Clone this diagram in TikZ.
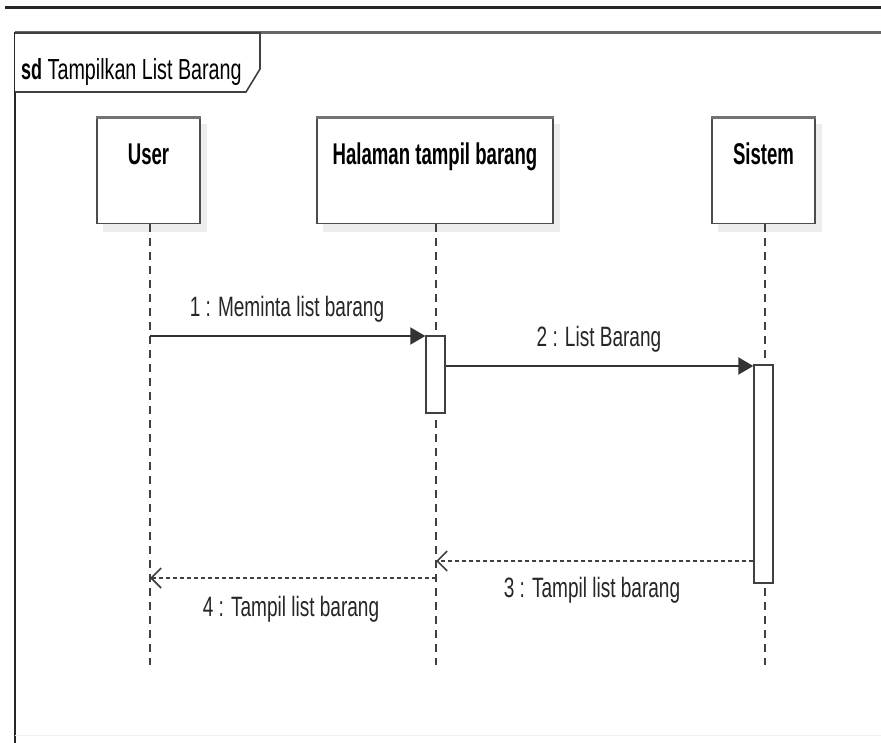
\documentclass[tikz,border=0pt]{standalone}
\usepackage{fontspec}
\setmainfont{Liberation Sans}[FakeStretch=0.68]
\newfontfamily\hdrfont{Liberation Sans}[FakeStretch=0.62]
\usetikzlibrary{arrows.meta}

\tikzset{
  lifebox/.style={draw=black!70, line width=1.4pt, fill=white,
    minimum width=103pt, minimum height=105pt, inner sep=0pt},
  boxshadow/.style={fill=black!7, draw=none},
  hdr/.style={font=\hdrfont\fontsize{30}{32}\selectfont\bfseries, anchor=base, inner sep=0pt},
  msglabel/.style={font=\fontsize{28}{30}\selectfont, anchor=base, inner sep=0pt, text=black!85},
  lifeline/.style={draw=black!75, line width=1.2pt, dash pattern=on 8pt off 6pt},
  actbox/.style={draw=black!75, line width=1.4pt, fill=white, minimum width=19pt, inner sep=0pt},
  callmsg/.style={draw=black!80, line width=2pt,
    -{Triangle[length=15pt, width=17pt]}},
  replymsg/.style={draw=black!75, line width=2pt, dash pattern=on 4pt off 3pt,
    -{Straight Barb[length=10pt, width=20pt, line width=1.6pt]}},
}

\begin{document}
\begin{tikzpicture}[x=1pt, y=-1pt]
  \useasboundingbox (0,0) rectangle (881,743);
  \fill[white] (0,0) rectangle (881,743);

  % top rule and interaction frame
  \draw[black!85, line width=3pt] (5,8) -- (881,8);
  \draw[black!60, line width=3pt] (15,33) -- (881,33);
  \draw[black!85, line width=2pt] (15,32) -- (15,743);
  \draw[black!5, line width=1pt] (15,735) -- (881,735);

  % frame name tab
  \draw[black!75, line width=1.6pt, fill=white]
    (15,33) -- (260,33) -- (260,69) -- (246,92) -- (15,92);
  \node[anchor=base west, inner sep=0pt] (title) at (21,80)
    {{\hdrfont\fontsize{29}{31}\selectfont\bfseries sd}\fontsize{29}{31}\selectfont\ Tampilkan List Barang};

  % lifeline heads with soft shadows
  \fill[boxshadow] (103,124) rectangle (207,232);
  \fill[boxshadow] (323,124) rectangle (560,232);
  \fill[boxshadow] (718,124) rectangle (822,232);
  \node[lifebox] (user) at (148.5,171) {};
  \node[lifebox, minimum width=236pt] (page) at (435,171) {};
  \node[lifebox] (sys) at (763.5,171) {};
  \draw[black!55, line width=3pt] (user.north west) -- (user.north east);
  \draw[black!55, line width=3pt] (page.north west) -- (page.north east);
  \draw[black!55, line width=3pt] (sys.north west) -- (sys.north east);

  \node[hdr] (userlbl) at (148.5,165) {User};
  \node[hdr] (pagelbl) at (435,165) {Halaman tampil barang};
  \node[hdr] (syslbl) at (763.5,165) {Sistem};

  % lifelines
  \coordinate (userend) at (150,665);
  \coordinate (pageend) at (436,665);
  \coordinate (sysend) at (765,665);
  \draw[lifeline] (user.south -| userend) -- (userend);
  \draw[lifeline] (page.south -| pageend) -- (pageend);
  \draw[lifeline] (sys.south -| sysend) -- (sysend);

  % activation bars
  \node[actbox, minimum height=77pt] (pageact) at (435.5,374.5) {};
  \node[actbox, minimum height=218pt] (sysact) at (763.5,474) {};

  % messages
  \coordinate (m1start) at (150,336);
  \draw[callmsg] (m1start) -- (m1start -| pageact.west);
  \node[msglabel] (m1) at (287,317) {1 : Meminta list barang};

  \coordinate (m2start) at (445,366);
  \draw[callmsg] (m2start -| pageact.east) -- (m2start -| sysact.west);
  \node[msglabel] (m2) at (599,347) {2 : List Barang};

  \coordinate (m3start) at (754,561);
  \draw[replymsg] (m3start -| sysact.west) -- (m3start -| pageend);
  \node[msglabel] (m3) at (592,597) {3 : Tampil list barang};

  \coordinate (m4start) at (436,578);
  \draw[replymsg] (m4start) -- (m4start -| userend);
  \node[msglabel] (m4) at (291,616) {4 : Tampil list barang};
\end{tikzpicture}
\end{document}
